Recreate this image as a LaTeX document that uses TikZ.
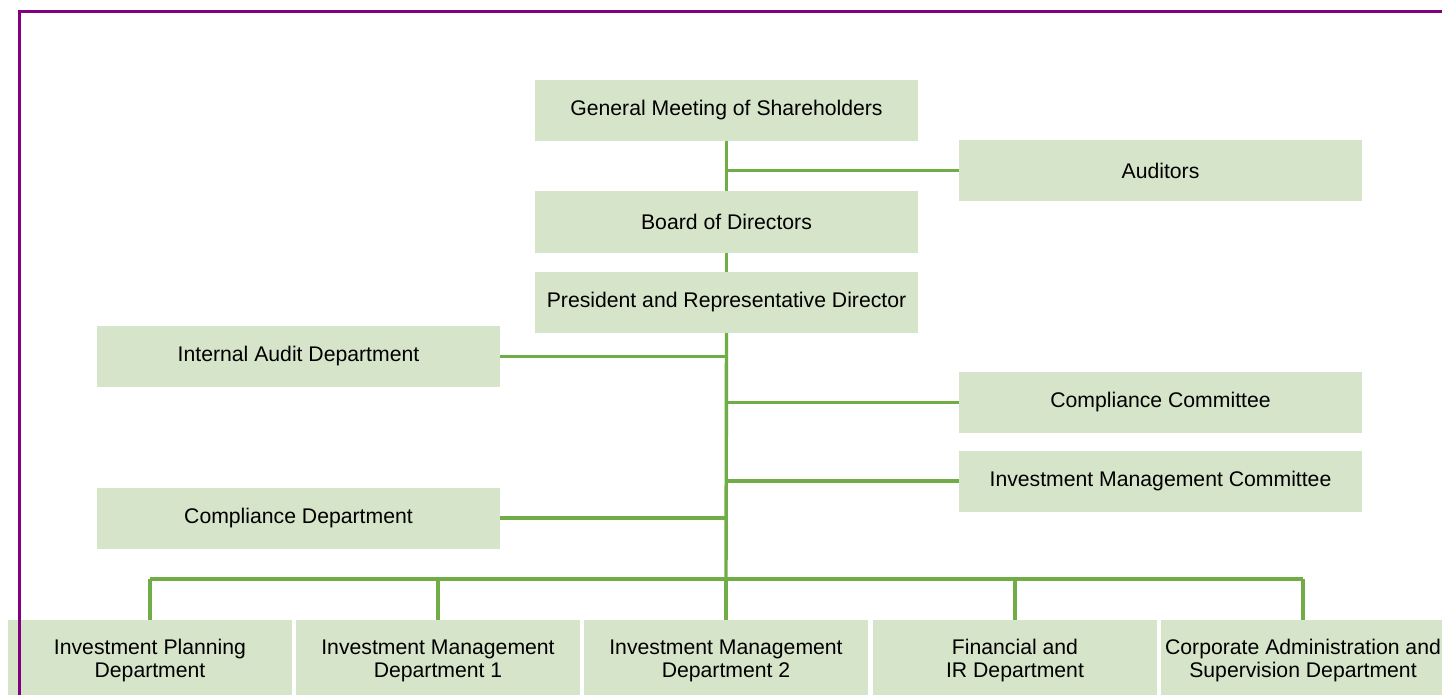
\documentclass[tikz,border=0pt]{standalone}
\usepackage{fontspec}
\setmainfont{Liberation Sans}
\usetikzlibrary{positioning}
\definecolor{boxgreen}{HTML}{D6E4C9}
\definecolor{linegreen}{HTML}{70AD47}
\definecolor{framepurple}{HTML}{800080}

\begin{document}
\begin{tikzpicture}[
  x=1pt, y=-1pt,
  orgbox/.style={
    fill=boxgreen,
    inner sep=0pt,
    minimum width=#1,
    minimum height=61pt,
    align=center,
    font=\fontsize{21.2}{23}\selectfont
    },
  orgbox/.default=383pt,
  link/.style={
    draw=linegreen,
    line width=3.4pt
  }
]

\clip (0,0) rectangle (1442,695);
\fill[white] (0,0) rectangle (1442,695);

% top of the chart
\node [orgbox] (gms) at (726.5,110.5) {General Meeting of Shareholders};
\node [orgbox=403pt] (aud) at (1160.5,170.5) {Auditors};
\node [orgbox] (board) at (726.5,222) {Board of Directors};
\node [orgbox] (pres) at (726.5,302.5) {President and Representative Director};

% staff and committees
\node [orgbox=403pt] (iad) at (298.5,356.5) {Internal Audit Department};
\node [orgbox=403pt] (ccom) at (1160.5,402.5) {Compliance Committee};
\node [orgbox=403pt] (imc) at (1160.5,481) {Investment Management Committee};
\node [orgbox=403pt] (cdep) at (298.5,518) {Compliance Department};

% departments
\foreach \i/\x/\txt in {1/150/{Investment Planning\\Department},
                        2/438/{Investment Management\\Department 1},
                        3/726/{Investment Management\\Department 2},
                        4/1015/{Financial and\\IR Department},
                        5/1303/{Corporate Administration and\\Supervision Department}}
    \node [orgbox=284pt, minimum height=82pt] (dep\i) at (\x,661) {\txt};

\coordinate (bus) at (726,579);

\draw[link] (gms) -- (board);
\draw[link] (aud.west) -- (aud.west -| gms.south);
\draw[link] (board) -- (pres);
\draw[link] (pres.south) -- (bus);
\draw[link] (iad.east) -- (iad.east -| pres.south);
\draw[link] (ccom.west) -- (ccom.west -| pres.south);
\draw[link] (imc.west) -- (imc.west -| pres.south);
\draw[link] (cdep.east) -- (cdep.east -| pres.south);
\draw[link] (bus -| dep1.north) -- (bus -| dep5.north);
\foreach \i in {1,...,5}
    \draw[link] (dep\i.north) -- (dep\i.north |- bus);

% frame
\draw[framepurple, line width=3pt] (19,700) -- (19,12) -- (1450,12);
\end{tikzpicture}
\end{document}
